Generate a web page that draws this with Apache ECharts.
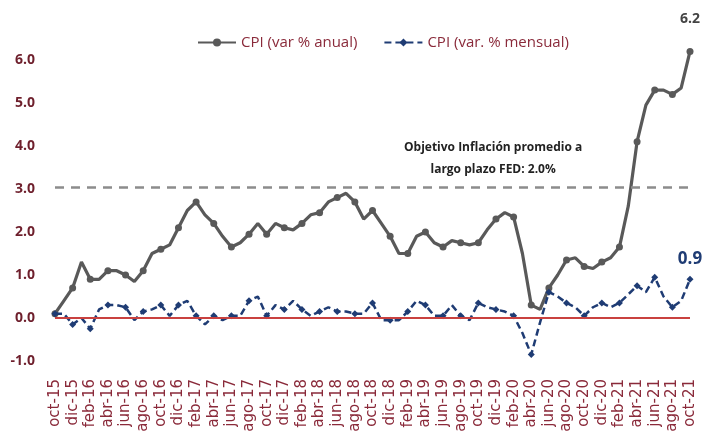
<!DOCTYPE html>
<html>
<head>
<meta charset="utf-8">
<script src="https://cdn.jsdelivr.net/npm/echarts@6/dist/echarts.min.js"></script>
<style>
  html, body { margin: 0; padding: 0; background: #fff; }
  #chart { width: 702px; height: 445px; }
</style>
</head>
<body>
<div id="chart"></div>
<script>
// meses oct-15 .. oct-21
const meses = ['ene', 'feb', 'mar', 'abr', 'may', 'jun', 'jul', 'ago', 'sep', 'oct', 'nov', 'dic']
const categorias = []
for (let a = 15; a <= 21; a++) {
  meses.forEach((m, i) => {
    if ((a === 15 && i < 9) || (a === 21 && i > 9)) return
    categorias.push(m + '-' + a)
  })
}

const cpiAnual = [
  0.1, 0.4, 0.7,
  1.3, 0.9, 0.9, 1.1, 1.1, 1.0, 0.85, 1.1, 1.5, 1.6, 1.7, 2.1,
  2.5, 2.7, 2.4, 2.2, 1.9, 1.65, 1.75, 1.95, 2.2, 1.95, 2.2, 2.1,
  2.05, 2.2, 2.4, 2.45, 2.7, 2.8, 2.9, 2.7, 2.3, 2.5, 2.2, 1.9,
  1.5, 1.5, 1.9, 2.0, 1.75, 1.65, 1.8, 1.75, 1.7, 1.75, 2.05, 2.3,
  2.45, 2.35, 1.5, 0.3, 0.2, 0.7, 1.0, 1.35, 1.4, 1.2, 1.15, 1.3,
  1.4, 1.65, 2.6, 4.1, 4.95, 5.3, 5.3, 5.2, 5.35, 6.2,
]

const cpiMensual = [
  0.1, 0.1, -0.15,
  0.0, -0.25, 0.2, 0.3, 0.3, 0.25, -0.05, 0.15, 0.2, 0.3, 0.05, 0.3,
  0.4, 0.05, -0.15, 0.05, -0.05, 0.05, 0.05, 0.4, 0.5, 0.05, 0.3, 0.2,
  0.4, 0.2, 0.05, 0.15, 0.25, 0.15, 0.15, 0.1, 0.1, 0.35, -0.05, -0.05,
  -0.05, 0.15, 0.4, 0.3, 0.05, 0.05, 0.3, 0.05, -0.05, 0.35, 0.25, 0.2,
  0.15, 0.05, -0.35, -0.85, -0.1, 0.6, 0.5, 0.35, 0.25, 0.05, 0.25, 0.35,
  0.25, 0.35, 0.55, 0.75, 0.6, 0.95, 0.5, 0.25, 0.4, 0.9,
]

const objetivoLinea = 3.05
const notaObjetivo = 'Objetivo Inflación promedio a\nlargo plazo FED: 2.0%'

const chart = echarts.init(document.getElementById('chart'))

// ultimo punto con etiqueta
function conEtiquetaFinal(datos, estilo) {
  return datos.map((v, i) => i === datos.length - 1
    ? { value: v, label: Object.assign({ show: true, position: 'top', formatter: (p) => p.value.toFixed(1) }, estilo) }
    : v)
}

chart.setOption({
  animation: false,
  backgroundColor: '#fff',
  textStyle: { fontFamily: 'Open Sans' },
  grid: { left: 55, right: 12, top: 60, bottom: 84 },
  legend: {
    top: 30,
    left: 192,
    itemGap: 26,
    itemWidth: 38,
    itemHeight: 10,
    textStyle: { color: '#8a2a3a', fontSize: 15, fontFamily: 'Open Sans' },
    data: ['CPI (var % anual)', 'CPI (var. % mensual)'],
  },
  xAxis: {
    type: 'category',
    boundaryGap: false,
    data: categorias,
    axisLine: { show: false },
    axisTick: { show: false },
    axisLabel: {
      interval: 1,
      rotate: 90,
      margin: 18,
      color: '#8a2a3a',
      fontSize: 15,
      fontFamily: 'DejaVu Sans',
    },
  },
  yAxis: {
    type: 'value',
    min: -1,
    max: 6,
    interval: 1,
    splitLine: { show: false },
    axisLabel: {
      margin: 20,
      color: '#6e1f2c',
      fontSize: 14,
      fontWeight: 'bold',
      formatter: (v) => v.toFixed(1),
    },
  },
  graphic: [
    {
      type: 'text',
      left: 404,
      top: 137,
      style: {
        text: notaObjetivo,
        fill: '#222',
        font: 'bold 12px "Open Sans"',
        textAlign: 'center',
        lineHeight: 22,
      },
    },
  ],
  series: [
    {
      name: 'CPI (var % anual)',
      type: 'line',
      clip: false,
      data: conEtiquetaFinal(cpiAnual, { color: '#444', fontSize: 14, fontWeight: 'bold', distance: 22 }),
      symbol: 'circle',
      symbolSize: 7,
      lineStyle: { color: '#595959', width: 3.2 },
      itemStyle: { color: '#595959' },
      z: 3,
      markLine: {
        silent: true,
        symbol: 'none',
        label: { show: false },
        data: [
          { yAxis: 0, lineStyle: { color: '#c9413f', width: 2, type: 'solid' } },
          { yAxis: objetivoLinea, lineStyle: { color: '#8c8c8c', width: 2.5, type: [9, 7] } },
        ],
      },
    },
    {
      name: 'CPI (var. % mensual)',
      type: 'line',
      data: conEtiquetaFinal(cpiMensual, { color: '#1f3c74', fontSize: 17, fontWeight: 'bold', distance: 8 }),
      symbol: 'diamond',
      symbolSize: 7,
      lineStyle: { color: '#1f3c74', width: 2.5, type: [7, 4] },
      itemStyle: { color: '#1f3c74' },
      z: 4,
    },
  ],
})
</script>
</body>
</html>
